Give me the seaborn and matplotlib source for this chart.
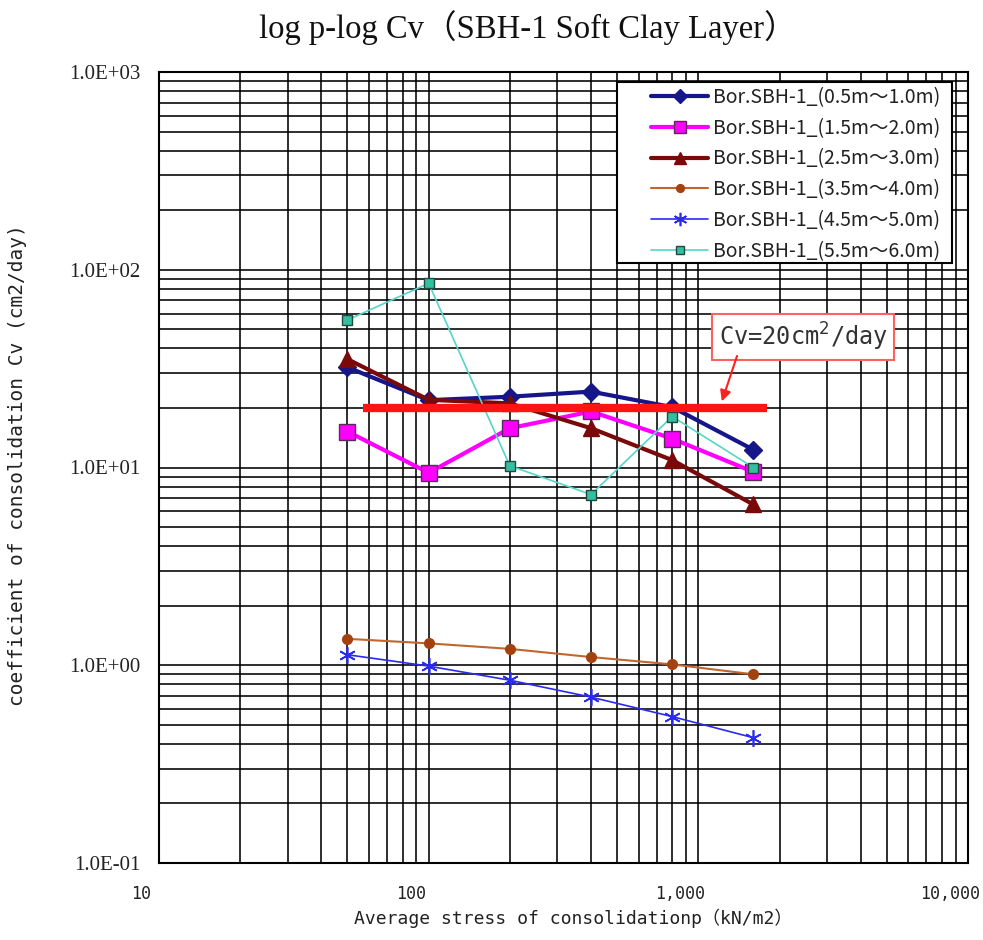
import numpy as np
import matplotlib
matplotlib.use("Agg")
import matplotlib.pyplot as plt
from matplotlib.ticker import FixedLocator, FixedFormatter, LogLocator, NullFormatter
from matplotlib.transforms import ScaledTranslation
from matplotlib.patches import Rectangle
import seaborn as sns

# Average stress of consolidation p (kN/m2)
stress = [50, 100, 200, 400, 800, 1600]

# Coefficient of consolidation Cv (cm2/day) for each sampling depth
cv_05_10 = [32.1, 21.9, 22.8, 24.2, 20.2, 12.3]
cv_15_20 = [15.2, 9.4, 15.8, 19.2, 14.0, 9.5]
cv_25_30 = [35.3, 22.0, 21.1, 15.8, 10.9, 6.5]
cv_35_40 = [1.36, 1.29, 1.21, 1.10, 1.01, 0.90]
cv_45_50 = [1.13, 0.99, 0.84, 0.69, 0.55, 0.43]
cv_55_60 = [55.7, 85.4, 10.2, 7.3, 18.1, 10.0]

series_labels = [
    "Bor.SBH-1_(0.5m～1.0m)",
    "Bor.SBH-1_(1.5m～2.0m)",
    "Bor.SBH-1_(2.5m～3.0m)",
    "Bor.SBH-1_(3.5m～4.0m)",
    "Bor.SBH-1_(4.5m～5.0m)",
    "Bor.SBH-1_(5.5m～6.0m)",
]

# Reference criterion line
cv_limit = 20
limit_span = [57, 1800]
limit_label = r"Cv=20cm$^{2}$/day"

x_ticks = [10, 100, 1000, 10000]
x_ticklabels = ["10", "100", "1,000", "10,000"]
y_ticks = [0.1, 1, 10, 100, 1000]
y_ticklabels = ["1.0E-01", "1.0E+00", "1.0E+01", "1.0E+02", "1.0E+03"]

sns.set_style("white")
plt.rcParams["font.family"] = ["Noto Sans CJK JP", "DejaVu Sans"]
plt.rcParams["mathtext.fontset"] = "dejavusans"

MONO = ["DejaVu Sans Mono", "Noto Sans CJK JP"]
SERIF = ["Liberation Serif", "Noto Sans CJK JP"]

W, H = 983, 940
fig = plt.figure(figsize=(W / 100, H / 100), dpi=100)
fig.patch.set_facecolor("white")
ax = fig.add_axes([159 / W, 77 / H, 809 / W, 791 / H])
ax.set_xscale("log")
ax.set_yscale("log")
ax.set_xlim(10, 10000)
ax.set_ylim(0.1, 1000)

styles = [
    dict(color="#16168A", marker="D", markersize=9.5, linewidth=3.0,
         markerfacecolor="#16168A", markeredgecolor="#16168A", markeredgewidth=1),
    dict(color="#FF00FF", marker="s", markersize=11.5, linewidth=3.0,
         markerfacecolor="#FF00FF", markeredgecolor="#5A2A5A", markeredgewidth=1),
    dict(color="#7A0A0A", marker="^", markersize=11, linewidth=3.0,
         markerfacecolor="#7A0A0A", markeredgecolor="#7A0A0A", markeredgewidth=1),
    dict(color="#C2652E", marker="o", markersize=7, linewidth=1.5,
         markerfacecolor="#A3420F", markeredgecolor="#A3420F", markeredgewidth=1),
    dict(color="#2A2AF0", marker=(6, 2, 0), markersize=12, linewidth=1.2,
         markeredgecolor="#2A2AF0", markeredgewidth=1.2),
    dict(color="#55D6C8", marker="s", markersize=7, linewidth=1.2,
         markerfacecolor="#33BFA0", markeredgecolor="#1E4A40", markeredgewidth=1),
]

all_series = [cv_05_10, cv_15_20, cv_25_30, cv_35_40, cv_45_50, cv_55_60]
for values, label, st in zip(all_series, series_labels, styles):
    sns.lineplot(x=stress, y=values, ax=ax, label=label, zorder=4, **st)

# Cv criterion line with callout
ax.plot(limit_span, [cv_limit, cv_limit], color="#FF1414", linewidth=6,
        solid_capstyle="butt", zorder=6)
ax.text(0.7965, 0.665, limit_label, transform=ax.transAxes, ha="center", va="center",
        fontsize=17, color="#333333", zorder=8, family=MONO,
        bbox=dict(boxstyle="square,pad=0.28", fc="white", ec="#FF6060", lw=1.5))
ax.annotate("", xy=(1200, cv_limit), xycoords="data",
            xytext=(0.7145, 0.641), textcoords="axes fraction",
            arrowprops=dict(arrowstyle="-|>", color="#FF2020", lw=1.5,
                            mutation_scale=16, shrinkA=0, shrinkB=5),
            zorder=8)

# Grid and axes
ax.xaxis.set_major_locator(FixedLocator(x_ticks))
ax.xaxis.set_major_formatter(FixedFormatter(x_ticklabels))
ax.xaxis.set_minor_locator(LogLocator(base=10, subs=np.arange(2, 10)))
ax.xaxis.set_minor_formatter(NullFormatter())
ax.yaxis.set_major_locator(FixedLocator(y_ticks))
ax.yaxis.set_major_formatter(FixedFormatter(y_ticklabels))
ax.yaxis.set_minor_locator(LogLocator(base=10, subs=np.arange(2, 10)))
ax.yaxis.set_minor_formatter(NullFormatter())
ax.grid(which="both", color="black", linewidth=1.15)
ax.set_axisbelow(True)
for sp in ax.spines.values():
    sp.set_color("black")
    sp.set_linewidth(1.5)
ax.tick_params(which="both", length=0)
ax.tick_params(axis="x", pad=16, labelsize=12, labelcolor="#222222")
ax.tick_params(axis="y", pad=13.5, labelsize=15, labelcolor="#222222")
for lbl in ax.get_yticklabels():
    lbl.set_fontfamily(SERIF)
for lbl in ax.get_xticklabels():
    lbl.set_fontfamily(MONO)
    lbl.set_transform(lbl.get_transform() + ScaledTranslation(-18 / 100, 0, fig.dpi_scale_trans))

ax.set_xlabel("Average stress of consolidationp（kN/m2）", fontsize=13,
              color="#222222", family=MONO)
ax.xaxis.set_label_coords(0.512, -0.0695)
ax.xaxis.label.set_va("center")
ax.set_ylabel("coefficient of consolidation Cv (cm2/day)", fontsize=14,
              color="#222222", family=MONO)
ax.yaxis.set_label_coords(-0.1755, 0.503)
ax.yaxis.label.set_va("center")

fig.text(528 / W, 1 - 28 / H, "log p-log Cv（SBH-1 Soft Clay Layer）",
         ha="center", va="center", fontsize=23.5, color="#111111", family=SERIF)

# Legend with a framed white panel
frame = Rectangle((0.566, 0.7585), 0.414, 0.2285, transform=ax.transAxes,
                  facecolor="white", edgecolor="black", linewidth=1.5, zorder=9)
ax.add_patch(frame)
leg = ax.legend(loc="upper right", bbox_to_anchor=(0.966, 0.981), borderaxespad=0,
                frameon=False, fontsize=14, handlelength=2.95, handletextpad=0.26,
                labelspacing=0.5, borderpad=0, markerscale=0.8)
leg.set_zorder(10)
for t in leg.get_texts():
    t.set_color("#222222")

fig.savefig("out.png", dpi=100, facecolor="white")
